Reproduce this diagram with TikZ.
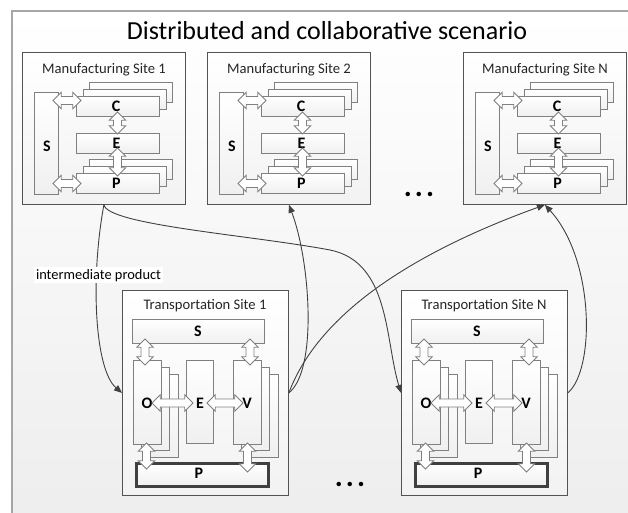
\documentclass[tikz,border=0pt]{standalone}
\usepackage{fontspec}
\setmainfont{Carlito}
\usetikzlibrary{shapes.arrows,arrows.meta,shadows}
\definecolor{dk}{HTML}{404040}
\definecolor{bd}{HTML}{808080}
\definecolor{frm}{HTML}{A6A6A6}
\tikzset{
 sitebox/.style={draw=dk!90, line width=0.8pt, top color=white, bottom color=black!5, inner sep=0, anchor=north west,
   drop shadow={shadow xshift=1pt, shadow yshift=-1pt, opacity=0.25}},
 compbox/.style={draw=bd, line width=0.8pt, top color=white, bottom color=black!6, inner sep=0, anchor=north west},
 pbar/.style={draw=dk, line width=3.2pt, top color=white, bottom color=black!6, inner sep=0, anchor=north west},
 dblarrow/.style={double arrow, draw=bd, fill=white, line width=0.8pt, inner xsep=0pt, inner ysep=3.6pt, minimum width=16pt, double arrow head extend=4.2pt},
 lbl/.style={font=\bfseries\fontsize{16}{16}\selectfont, inner sep=0, text=black},
 ttl/.style={font=\fontsize{14.6}{15}\selectfont, inner sep=0, anchor=base, text=black!85},
 dots/.style={font=\bfseries\fontsize{30}{30}\selectfont, inner sep=0, anchor=base},
 conn/.style={draw=dk, line width=0.9pt, -{Triangle[length=8pt,width=6.5pt]}},
}
\newcommand\msite[3]{%
\begin{scope}[shift={(#2,52)}]
 \node[sitebox, minimum width=163pt, minimum height=152pt] (#1) at (0,0) {};
 \node[ttl] (#1-t) at (82,22) {#3};
 \node[compbox, minimum width=24pt, minimum height=102pt] (#1-S) at (12,40) {};
 \node[compbox, minimum width=83pt, minimum height=20pt] (#1-C3) at (67,30) {};
 \node[compbox, minimum width=83pt, minimum height=20pt] (#1-C2) at (61,37) {};
 \node[compbox, minimum width=83pt, minimum height=20pt] (#1-C1) at (54,44) {};
 \node[compbox, minimum width=83pt, minimum height=20pt] (#1-E) at (54,81) {};
 \node[compbox, minimum width=83pt, minimum height=20pt] (#1-P3) at (67,107) {};
 \node[compbox, minimum width=83pt, minimum height=20pt] (#1-P2) at (61,114) {};
 \node[compbox, minimum width=83pt, minimum height=20pt] (#1-P1) at (54,121) {};
 \node[lbl] (#1-Sl) at (25,94) {S};
 \node[lbl] (#1-Cl) at (94,54) {C};
 \node[lbl] (#1-El) at (94.5,91) {E};
 \node[lbl] (#1-Pl) at (94.5,131) {P};
 \node[dblarrow, minimum height=28pt] (#1-a1) at (45,48.5) {};
 \node[dblarrow, minimum height=28pt] (#1-a2) at (45,131.5) {};
 \node[dblarrow, minimum height=22pt, rotate=90] (#1-a3) at (95.5,71) {};
 \node[dblarrow, minimum height=28pt, rotate=90] (#1-a4) at (95.5,110) {};
\end{scope}}
\newcommand\tsite[3]{%
\begin{scope}[shift={(#2,290)}]
 \node[sitebox, minimum width=166pt, minimum height=205pt] (#1) at (0,0) {};
 \node[ttl] (#1-t) at (83,19) {#3};
 \node[compbox, minimum width=132pt, minimum height=24pt] (#1-S) at (10,29) {};
 \node[compbox, minimum width=28pt, minimum height=83pt] (#1-O3) at (28,84) {};
 \node[compbox, minimum width=28pt, minimum height=83pt] (#1-O2) at (19,77) {};
 \node[compbox, minimum width=28pt, minimum height=84pt] (#1-O1) at (11,70) {};
 \node[compbox, minimum width=27pt, minimum height=83pt] (#1-E) at (64,70) {};
 \node[compbox, minimum width=28pt, minimum height=83pt] (#1-V3) at (128,84) {};
 \node[compbox, minimum width=28pt, minimum height=83pt] (#1-V2) at (119,77) {};
 \node[compbox, minimum width=28pt, minimum height=84pt] (#1-V1) at (111,70) {};
 \node[pbar, minimum width=132pt, minimum height=23pt] (#1-P) at (13,172) {};
 \node[lbl] (#1-Sl) at (76,41) {S};
 \node[lbl] (#1-Ol) at (25,113) {O};
 \node[lbl] (#1-El) at (78,113) {E};
 \node[lbl] (#1-Vl) at (125,113) {V};
 \node[lbl] (#1-Pl) at (77,183.5) {P};
 \node[dblarrow, minimum height=41pt] (#1-a1) at (50.5,113) {};
 \node[dblarrow, minimum height=36pt] (#1-a2) at (103,113) {};
 \node[dblarrow, minimum height=26pt, rotate=90] (#1-a3) at (23,62) {};
 \node[dblarrow, minimum height=26pt, rotate=90] (#1-a4) at (128,62) {};
 \node[dblarrow, minimum height=26pt, rotate=90] (#1-a5) at (24.5,166) {};
 \node[dblarrow, minimum height=29pt, rotate=90] (#1-a6) at (125.5,167.5) {};
\end{scope}}
\begin{document}
\begin{tikzpicture}[x=1pt,y=-1pt]
\useasboundingbox (0,0) rectangle (628,513);
\clip (0,0) rectangle (628,513);
\fill[white] (0,0) rectangle (628,513);
\shade[top color=white, bottom color=black!7] (12,11) rectangle (640,525);
\draw[frm, line width=2pt] (12,525) -- (12,11) -- (640,11);
\node[font=\fontsize{26}{27}\selectfont, inner sep=0, anchor=base] (title) at (327,39.5) {Distributed and collaborative scenario};
\msite{ms1}{22}{Manufacturing Site 1}
\msite{ms2}{207}{Manufacturing Site 2}
\msite{msN}{463}{Manufacturing Site N}
\tsite{ts1}{122}{Transportation Site 1}
\tsite{tsN}{401}{Transportation Site N}
\node[dots] (dots1) at (419,196) {.\kern3pt.\kern3pt.};
\node[dots] (dots2) at (350,486) {.\kern3pt.\kern3pt.};
\draw[conn] (ms1.south) .. controls (90,280) and (95,370) .. (ts1.west);
\draw[conn] (ms1.south) .. controls (108,225) and (250,235) .. (330,250) .. controls (390,262) and (385,340) .. (tsN.west);
\draw[conn] (ts1.east) .. controls (318,370) and (310,260) .. (ms2.south);
\draw[conn] (ts1.east) .. controls (320,310) and (420,250) .. (msN.south);
\draw[conn] (tsN.east) .. controls (595,370) and (595,260) .. (msN.south);
\node[fill=white, inner sep=2pt, font=\fontsize{14.4}{15}\selectfont, anchor=base] (ip) at (98.5,279) {intermediate product};
\end{tikzpicture}
\end{document}
